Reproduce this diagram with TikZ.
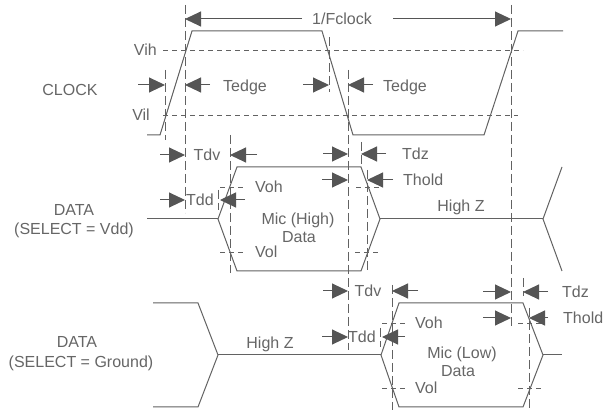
\documentclass[tikz,border=0pt]{standalone}
\usepackage{fontspec}
\setmainfont{Liberation Sans}
\usetikzlibrary{arrows.meta}
\definecolor{ln}{HTML}{626262}
\definecolor{ar}{HTML}{555555}
\definecolor{tx}{HTML}{666666}
\begin{document}
\begin{tikzpicture}[x=1pt,y=-1pt,
 wave/.style={draw=ln,line width=1pt,line join=miter},
 vdash/.style={draw=ln,line width=0.8pt,dash pattern=on 9pt off 4pt},
 hdash/.style={draw=ln,line width=0.8pt,dash pattern=on 5pt off 4pt},
 dim/.style={draw=ar,line width=1pt,-{Triangle[length=16pt,width=15pt]}},
 lbl/.style={text=tx,font=\fontsize{16}{19}\selectfont,inner sep=0pt,text height=11.5pt,text depth=0pt}]
\useasboundingbox (0,0) rectangle (603,411);
\fill[white] (0,0) rectangle (603,411);
% clock waveform
\draw[wave] (147,135) -- (160,135) -- (192,31) -- (322,31) -- (353,135) -- (484,135) -- (518,31) -- (563,31);
% data 1 waveform
\draw[wave] (147,219) -- (218,219);
\draw[wave] (218,219) -- (237,167) -- (361,167) -- (380,219) -- (361,271) -- (237,271) -- cycle;
\draw[wave] (380,219) -- (543,219);
\draw[wave] (562,167) -- (543,219) -- (562,271);
% data 2 waveform
\draw[wave] (153,303) -- (198,303) -- (218,355) -- (198,407) -- (153,407);
\draw[wave] (218,355) -- (381,355);
\draw[wave] (381,355) -- (399,303) -- (523,303) -- (543,355) -- (523,407) -- (399,407) -- cycle;
\draw[wave] (543,355) -- (562,355);
% vertical dashed lines
\draw[vdash] (165,70) -- (165,140);
\draw[vdash] (185,5) -- (185,213);
\draw[vdash] (329,37) -- (329,92);
\draw[vdash] (348,70) -- (348,350);
\draw[vdash] (511,5) -- (511,328);
\draw[vdash] (230,135) -- (230,273);
\draw[vdash] (218,190) -- (218,210);
\draw[vdash] (361,142) -- (361,165);
\draw[vdash] (367,170) -- (367,273);
\draw[vdash] (392,285) -- (392,410);
\draw[vdash] (380,328) -- (380,347);
\draw[vdash] (523,278) -- (523,296);
\draw[vdash] (529,308) -- (529,410);
% horizontal dashed lines
\draw[hdash] (163,50) -- (523,50);
\draw[hdash] (163,115) -- (518,115);
\draw[hdash] (220,187) -- (246,187);
\draw[hdash] (356,187) -- (382,187);
\draw[hdash] (220,252) -- (246,252);
\draw[hdash] (355,252) -- (380,252);
\draw[hdash] (382,323) -- (406,323);
\draw[hdash] (518,323) -- (543,323);
\draw[hdash] (382,388) -- (406,388);
\draw[hdash] (518,388) -- (543,388);
% labels
\node[lbl] (fclk) at (342,19) {1/Fclock};
\node[lbl] (clk) at (70,90) {CLOCK};
\node[lbl,anchor=east] (vih) at (157,50) {Vih};
\node[lbl,anchor=east] (vil) at (150,115) {Vil};
\node[lbl] (te1) at (245,86) {Tedge};
\node[lbl] (te2) at (405,86) {Tedge};
\node[lbl] (d1a) at (74,210) {DATA};
\node[lbl] (d1b) at (74,229) {(SELECT = Vdd)};
\node[lbl] (tdv1) at (207,155) {Tdv};
\node[lbl] (tdd1) at (200,200) {Tdd};
\node[lbl,anchor=west] (tdz1) at (402,154) {Tdz};
\node[lbl,anchor=west] (th1) at (403,180) {Thold};
\node[lbl,anchor=west] (voh1) at (255,187) {Voh};
\node[lbl,anchor=west] (vol1) at (255,252) {Vol};
\node[lbl] (m1a) at (298,219) {Mic (High)};
\node[lbl] (m1b) at (299,237) {Data};
\node[lbl] (hz1) at (461,206) {High Z};
\node[lbl] (d2a) at (77,342) {DATA};
\node[lbl] (d2b) at (81,362) {(SELECT = Ground)};
\node[lbl] (hz2) at (270,343) {High Z};
\node[lbl] (tdv2) at (368,291) {Tdv};
\node[lbl] (tdd2) at (362,337) {Tdd};
\node[lbl,anchor=west] (tdz2) at (562,292) {Tdz};
\node[lbl,anchor=west] (th2) at (563,318) {Thold};
\node[lbl,anchor=west] (voh2) at (415,323) {Voh};
\node[lbl,anchor=west] (vol2) at (415,388) {Vol};
\node[lbl] (m2a) at (462,353) {Mic (Low)};
\node[lbl] (m2b) at (458,371) {Data};
% dimension arrows
\draw[dim] (302,19) -- (185,19);
\draw[dim] (393,19) -- (511,19);
\draw[dim] (138,85) -- (165,85);
\draw[dim] (210,85) -- (185,85);
\draw[dim] (303,85) -- (329,85);
\draw[dim] (373,85) -- (348,85);
\draw[dim] (160,155) -- (185,155);
\draw[dim] (257,155) -- (230,155);
\draw[dim] (160,200) -- (185,200);
\draw[dim] (245,200) -- (220,200);
\draw[dim] (323,154) -- (348,154);
\draw[dim] (386,154) -- (361,154);
\draw[dim] (322,180) -- (348,180);
\draw[dim] (393,180) -- (367,180);
\draw[dim] (323,291) -- (348,291);
\draw[dim] (418,291) -- (392,291);
\draw[dim] (322,337) -- (348,337);
\draw[dim] (405,337) -- (382,337);
\draw[dim] (483,292) -- (511,292);
\draw[dim] (548,292) -- (523,292);
\draw[dim] (483,318) -- (511,318);
\draw[dim] (548,318) -- (529,318);
\end{tikzpicture}
\end{document}
